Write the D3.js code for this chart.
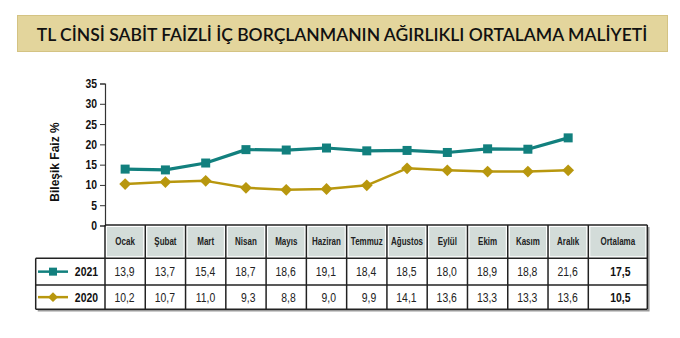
<!DOCTYPE html>
<html><head><meta charset="utf-8">
<script src="https://cdn.jsdelivr.net/npm/d3@7"></script>
<style>
html,body{margin:0;padding:0;background:#fff;}
svg{display:block;}
</style></head>
<body>
<svg id="chart" width="680" height="338"></svg>
<script>
const title = "TL CİNSİ SABİT FAİZLİ İÇ BORÇLANMANIN AĞIRLIKLI ORTALAMA MALİYETİ";
const yLabel = "Bileşik Faiz %";
const months = ["Ocak","Şubat","Mart","Nisan","Mayıs","Haziran","Temmuz","Ağustos","Eylül","Ekim","Kasım","Aralık"];
const avgLabel = "Ortalama";
const seriesNames = ["2021","2020"];
const values2021 = [13.9,13.7,15.4,18.7,18.6,19.1,18.4,18.5,18.0,18.9,18.8,21.6];
const values2020 = [10.2,10.7,11.0,9.3,8.8,9.0,9.9,14.1,13.6,13.3,13.3,13.6];
const averages = [17.5,10.5];
const yTicks = [0,5,10,15,20,25,30,35];

const colors = {"2021":"#12807e","2020":"#b8970e"};
const series = [
  {name:seriesNames[0], values:values2021, avg:averages[0], marker:"square"},
  {name:seriesNames[1], values:values2020, avg:averages[1], marker:"diamond"}
];

const svg = d3.select("#chart");
const fmt = v => d3.format(".1f")(v).replace(".", ",");
const FONT = "'Liberation Sans', Arial, sans-serif";
const NARROW = 0.8;

function narrowText(g, tx, ty, txt, opts){
  return g.append("text")
    .attr("transform", `translate(${tx},${ty}) scale(${NARROW},1)`)
    .attr("font-family", FONT)
    .attr("font-size", opts.size)
    .attr("font-weight", opts.bold ? "bold" : "normal")
    .attr("text-anchor", opts.anchor || "middle")
    .attr("fill", opts.fill || "#222")
    .text(txt);
}

// Title box
svg.append("rect").attr("x",17.5).attr("y",15.5).attr("width",650).attr("height",36)
  .attr("fill","#e3d59c").attr("stroke","#d4c383").attr("stroke-width",1);
svg.append("text").attr("x",342).attr("y",40.5).attr("text-anchor","middle")
  .attr("font-family","Lato, 'Open Sans', sans-serif").attr("font-size",17.5).attr("font-weight",600)
  .attr("fill","#111").text(title);

// Scales
const left = 105, right = 588.3, avgRight = 647.3;
const x = d3.scaleBand().domain(months).range([left,right]).padding(0);
const y = d3.scaleLinear().domain([0,35]).range([225.5,83.5]);

// Y axis
const yAxis = d3.axisLeft(y).tickValues(yTicks).tickSize(5).tickFormat("");
const gy = svg.append("g").attr("transform",`translate(${left},0)`).call(yAxis);
gy.select(".domain").attr("stroke","#333").attr("stroke-width",1.2);
gy.selectAll(".tick line").attr("stroke","#333");
yTicks.forEach(t => narrowText(svg, 97, y(t)+4.5, String(t), {size:13, bold:true, anchor:"end", fill:"#111"}));

svg.append("text")
  .attr("transform","translate(59,162) rotate(-90)").attr("text-anchor","middle")
  .attr("font-family",FONT).attr("font-size",12).attr("font-weight","bold").attr("fill","#111").text(yLabel);

// Table
const rowTop = [225, 258.3, 285, 309.3];
const tableLeft = 35.7;
const tbl = svg.append("g");
const headerCols = months.map(m => ({label:m, x0:x(m), x1:x(m)+x.bandwidth()}))
  .concat([{label:avgLabel, x0:right, x1:avgRight}]);
headerCols.forEach(c => {
  tbl.append("rect").attr("x",c.x0+1.5).attr("y",rowTop[0]+1.5)
    .attr("width",c.x1-c.x0-3).attr("height",rowTop[1]-rowTop[0]-3)
    .attr("fill","#d3dcd9").attr("stroke","#fff").attr("stroke-width",1);
  narrowText(tbl, (c.x0+c.x1)/2, (rowTop[0]+rowTop[1])/2+3.5, c.label, {size:10, bold:true, fill:"#222"});
});
// shadow
tbl.append("path").attr("d",`M${avgRight+1.5},${rowTop[0]+2} V${rowTop[3]+1.5} H${tableLeft+2}`)
  .attr("fill","none").attr("stroke","#999").attr("stroke-width",1.5);
const lineColor = "#222";
tbl.append("line").attr("x1",left).attr("x2",avgRight).attr("y1",rowTop[0]).attr("y2",rowTop[0]).attr("stroke",lineColor).attr("stroke-width",1.5);
[rowTop[1],rowTop[2],rowTop[3]].forEach(yy => tbl.append("line").attr("x1",tableLeft).attr("x2",avgRight)
  .attr("y1",yy).attr("y2",yy).attr("stroke",lineColor).attr("stroke-width",1.5));
tbl.append("line").attr("x1",tableLeft).attr("x2",tableLeft).attr("y1",rowTop[1]).attr("y2",rowTop[3]).attr("stroke",lineColor).attr("stroke-width",1.5);
headerCols.forEach(c => {
  tbl.append("line").attr("x1",c.x0).attr("x2",c.x0).attr("y1",rowTop[0]).attr("y2",rowTop[3]).attr("stroke",lineColor).attr("stroke-width",1.5);
});
tbl.append("line").attr("x1",avgRight).attr("x2",avgRight).attr("y1",rowTop[0]).attr("y2",rowTop[3]).attr("stroke",lineColor).attr("stroke-width",1.5);

function drawMarker(g, type, cx, cy, color, size){
  if(type==="square"){
    g.append("rect").attr("x",cx-size/2).attr("y",cy-size/2).attr("width",size).attr("height",size).attr("fill",color);
  } else {
    const s = size*0.62;
    g.append("path").attr("d",`M${cx},${cy-s} L${cx+s},${cy} L${cx},${cy+s} L${cx-s},${cy} Z`).attr("fill",color);
  }
}

// Rows
series.forEach((s,i) => {
  const cy = (rowTop[i+1]+rowTop[i+2])/2;
  const col = colors[s.name];
  tbl.append("line").attr("x1",38).attr("x2",68).attr("y1",cy).attr("y2",cy).attr("stroke",col).attr("stroke-width",2.5);
  drawMarker(tbl, s.marker, 53, cy, col, 8);
  narrowText(tbl, 98, cy+4.5, s.name, {size:13, bold:true, anchor:"end", fill:"#111"});
  s.values.forEach((v,j) => {
    narrowText(tbl, x(months[j])+x.bandwidth()/2+9.5, cy+4.5, fmt(v), {size:13, anchor:"end", fill:"#222"});
  });
  narrowText(tbl, 630.5, cy+4.5, fmt(s.avg), {size:13, bold:true, anchor:"end", fill:"#111"});
});

// Lines
const line = d3.line().x((d,j) => x(months[j])+x.bandwidth()/2).y(d => y(d));
[...series].reverse().forEach(s => {
  const col = colors[s.name];
  const g = svg.append("g");
  g.append("path").datum(s.values).attr("d",line).attr("fill","none").attr("stroke",col)
    .attr("stroke-width", s.marker==="square"?3.2:2.5).attr("stroke-linejoin","round");
  s.values.forEach((v,j) => drawMarker(g, s.marker, x(months[j])+x.bandwidth()/2, y(v), col, s.marker==="square"?9:9.5));
});
</script>
</body></html>
